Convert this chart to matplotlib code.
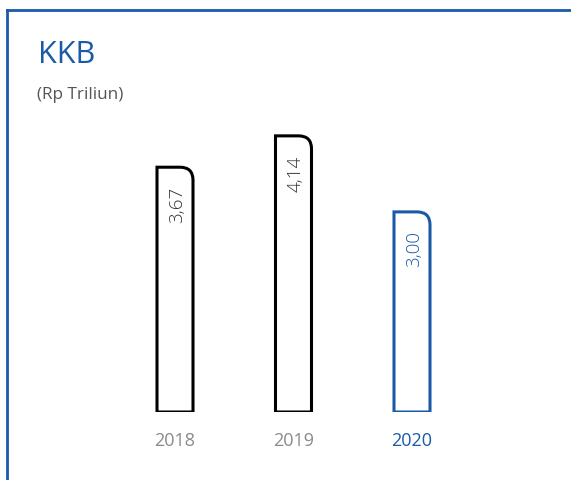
import matplotlib
matplotlib.use("Agg")
import matplotlib.pyplot as plt
from matplotlib.path import Path
from matplotlib.patches import PathPatch
from matplotlib.lines import Line2D

plt.rcParams['font.family'] = ['Open Sans', 'DejaVu Sans']

years = ['2018', '2019', '2020']
values = [3.67, 4.14, 3.00]
labels = ['3,67', '4,14', '3,00']

BLUE = '#1a5aa6'
edge_colors = ['black', 'black', BLUE]
text_colors = ['#333333', '#333333', BLUE]
tick_colors = ['#8a8a8a', '#8a8a8a', BLUE]

W, H = 571, 480
fig = plt.figure(figsize=(W / 100, H / 100), dpi=100)
fig.patch.set_facecolor('white')

# axes: bottom at y=412px, 118.5 px per category, 66.7 px per unit
px_x, px_y = 118.5, 66.7
bottom = H - 412
ax = fig.add_axes([0, bottom / H, 1, (H - bottom) / H])
ax.set_xlim(-175 / px_x, (W - 175) / px_x)
ax.set_ylim(0, (H - bottom) / px_y)
ax.axis('off')

bw = 36 / px_x
rx, ry = 13 / px_x, 13 / px_y

def rounded_bar(xc, h):
    x0, x1 = xc - bw / 2, xc + bw / 2
    verts = [(x0, 0), (x0, h), (x1 - rx, h), (x1, h), (x1, h - ry), (x1, 0), (x0, 0)]
    codes = [Path.MOVETO, Path.LINETO, Path.LINETO, Path.CURVE3, Path.CURVE3,
             Path.LINETO, Path.CLOSEPOLY]
    return Path(verts, codes)

for i, (v, lab) in enumerate(zip(values, labels)):
    ax.add_patch(PathPatch(rounded_bar(i, v), facecolor='white',
                           edgecolor=edge_colors[i], lw=2.2, joinstyle='miter'))
    ax.annotate(lab, (i, v), xytext=(1.5, -14), textcoords='offset points',
                rotation=90, ha='center', va='top', fontsize=13.5,
                color=text_colors[i], fontweight='light')
    t = ax.text(i, -29 / px_y, years[i], ha='center', va='center',
                fontsize=13, color=tick_colors[i])
    t.set_clip_on(False)

# frame lines (left and top)
fig.add_artist(Line2D([7 / W, 7 / W], [0, 1 - 10 / H], color=BLUE, lw=2,
                      transform=fig.transFigure))
fig.add_artist(Line2D([7 / W, 1], [1 - 10 / H, 1 - 10 / H], color=BLUE, lw=2,
                      transform=fig.transFigure))

fig.text(38 / W, 1 - 63 / H, 'KKB', fontsize=22, color=BLUE, va='baseline')
fig.text(37 / W, 1 - 99 / H, '(Rp Triliun)', fontsize=12.3, color='#555555',
         va='baseline')

fig.savefig('out.png', dpi=100)
